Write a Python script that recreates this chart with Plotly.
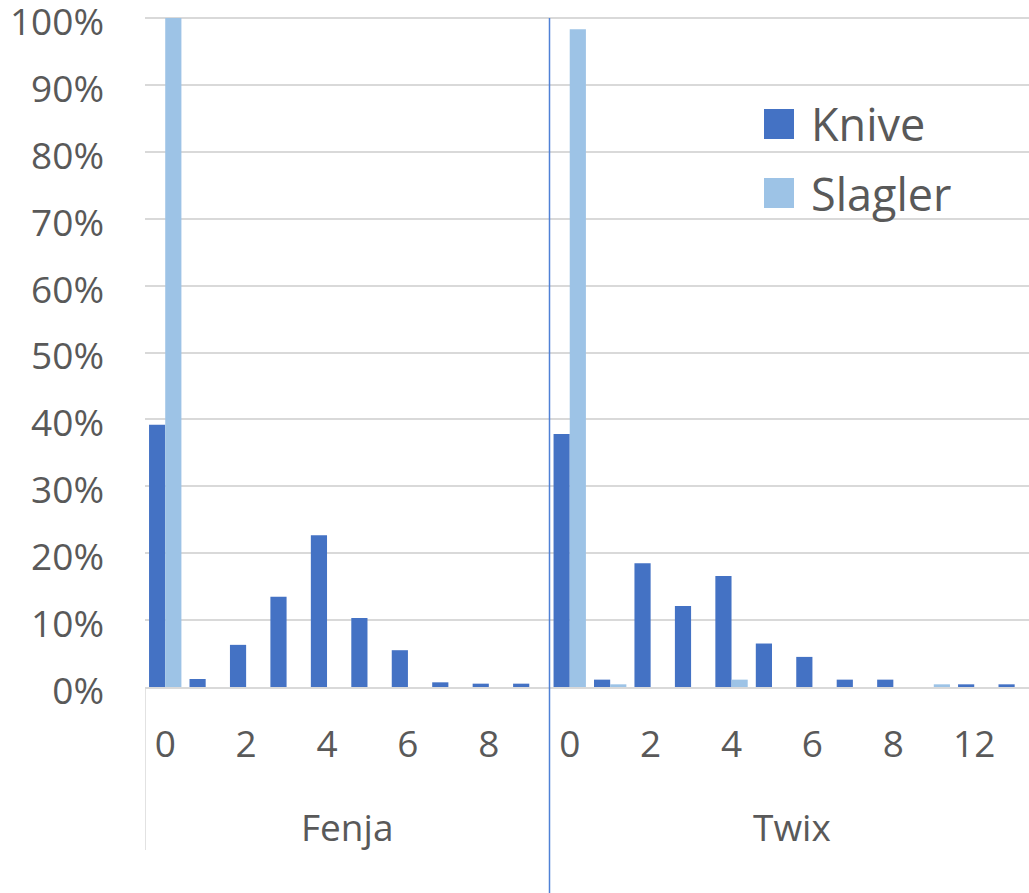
import plotly.graph_objects as go

# ---- data (percent) ----
groups = ["Fenja", "Twix"]
fenja_cats = ["0", "1", "2", "3", "4", "5", "6", "7", "8", "9"]
twix_cats = ["0", "1", "2", "3", "4", "5", "6", "7", "8", "10", "12", "14"]

fenja_knive = [39.2, 1.2, 6.3, 13.5, 22.7, 10.3, 5.5, 0.7, 0.5, 0.5]
fenja_slagler = [100.0, 0, 0, 0, 0, 0, 0, 0, 0, 0]
twix_knive = [37.8, 1.1, 18.5, 12.1, 16.6, 6.5, 4.5, 1.1, 1.1, 0, 0.4, 0.4]
twix_slagler = [98.3, 0.4, 0, 0, 1.1, 0, 0, 0, 0, 0.4, 0, 0]

y_ticks = [0, 10, 20, 30, 40, 50, 60, 70, 80, 90, 100]

series_names = ["Knive", "Slagler"]
colors = ["#4472C4", "#9DC3E6"]

# ---- positions on a shared numeric axis ----
n_f = len(fenja_cats)
n_t = len(twix_cats)
x_f = list(range(n_f))
x_t = [n_f + i for i in range(n_t)]
x_all = x_f + x_t

knive = [v / 100 for v in fenja_knive + twix_knive]
slagler = [v / 100 for v in fenja_slagler + twix_slagler]

tickvals = [x_f[i] for i in range(0, n_f, 2)] + [x_t[i] for i in range(0, n_t, 2)]
ticktext = [fenja_cats[i] for i in range(0, n_f, 2)] + [twix_cats[i] for i in range(0, n_t, 2)]

TXT = "#595959"
FONT = "Open Sans"

fig = go.Figure()
for name, vals, col in zip(series_names, [knive, slagler], colors):
    fig.add_trace(go.Bar(x=x_all, y=vals, name=name, marker=dict(color=col, line=dict(width=0)),
                         showlegend=False))

W, H = 1029, 893
Y0_PAGE, Y100_PAGE, TOP_PAGE = 687, 18, 14
L, R, T, B = 145, 0, TOP_PAGE, H - Y0_PAGE
pw = W - L - R
ph = H - T - B
y_top = (Y0_PAGE - TOP_PAGE) / (Y0_PAGE - Y100_PAGE)
cat_w = 40.45
x_max = -0.5 + pw / cat_w

fig.update_layout(
    width=W, height=H,
    margin=dict(l=L, r=R, t=T, b=B, pad=0, autoexpand=False),
    plot_bgcolor="white", paper_bgcolor="white",
    barmode="group", bargap=0.2, bargroupgap=0,
    font=dict(family=FONT, color=TXT, size=37),
    xaxis=dict(range=[-0.5, x_max], tickmode="array", tickvals=tickvals, ticktext=ticktext,
               showgrid=False, zeroline=False, showline=True, linecolor="#D9D9D9", linewidth=1.5,
               ticks="", tickfont=dict(size=37, color=TXT), ticklabelstandoff=24, automargin=False),
    yaxis=dict(range=[0, y_top], tickmode="array", tickvals=[v / 100 for v in y_ticks],
               ticktext=[f"{v}%" for v in y_ticks], showgrid=True, gridcolor="#D9D9D9",
               gridwidth=1.5, zeroline=False, showline=False, ticks="",
               tickfont=dict(size=37, color=TXT), ticklabelstandoff=40, ticklabelshift=4,
               automargin=False, ticklabeloverflow="allow"),
)

def py(y_page):
    return (T + ph - y_page) / ph

def pxp(x_page):
    return (x_page - L) / pw

# group labels
centers = [(x_f[0] + x_f[-1]) / 2, (x_t[0] + x_t[-1]) / 2]
for g, c in zip(groups, centers):
    fig.add_annotation(x=c, xref="x", y=py(826), yref="paper", text=g, showarrow=False,
                       font=dict(size=37, color=TXT, family=FONT), xanchor="center", yanchor="middle")

# group divider lines
fig.add_shape(type="line", xref="x", yref="paper", x0=-0.5, x1=-0.5, y0=0, y1=py(850),
              line=dict(color="#D9D9D9", width=1.5))
fig.add_shape(type="line", xref="x", yref="y", x0=n_f - 0.5, x1=n_f - 0.5, y0=1, y1=0,
              line=dict(color="#4F81D6", width=1.5))
fig.add_shape(type="line", xref="x", yref="paper", x0=n_f - 0.5, x1=n_f - 0.5, y0=0, y1=py(893),
              line=dict(color="#4F81D6", width=1.5))

# legend (drawn manually for large swatches)
leg_y = [124, 193]
for name, col, yc in zip(series_names, colors, leg_y):
    fig.add_shape(type="rect", xref="paper", yref="paper",
                  x0=pxp(764), x1=pxp(794), y0=py(yc - 15), y1=py(yc + 15),
                  fillcolor=col, line=dict(width=0))
    fig.add_annotation(x=pxp(809), xref="paper", y=py(yc), yref="paper", text=name,
                       showarrow=False, xanchor="left", yanchor="middle",
                       font=dict(size=45, color=TXT, family=FONT))

fig.write_html("out.html", config={"displayModeBar": False},
               post_script="document.body.style.margin='0px';document.body.style.overflow='hidden';")
